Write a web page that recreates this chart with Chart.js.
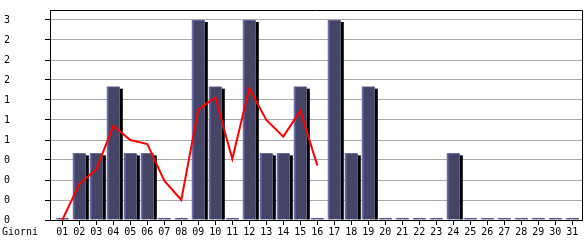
<!DOCTYPE html>
<html>
<head>
<meta charset="utf-8">
<script src="https://cdn.jsdelivr.net/npm/chart.js@4.4.1/dist/chart.umd.min.js"></script>
<style>
html, body { margin: 0; padding: 0; background: #fff; }
#wrap { width: 585px; height: 240px; }
</style>
</head>
<body>
<div id="wrap"><canvas id="giorniChart" width="585" height="240"></canvas></div>
<script>
// dati
var giorni = ["01", "02", "03", "04", "05", "06", "07", "08", "09", "10", "11", "12", "13", "14", "15", "16",
    "17", "18", "19", "20", "21", "22", "23", "24", "25", "26", "27", "28", "29", "30", "31"];
var visite = [0, 1, 1, 2, 1, 1, 0, 0, 3, 2, 0, 3, 1, 1, 2, 0, 3, 1, 2, 0, 0, 0, 0, 1, 0, 0, 0, 0, 0, 0, 0];
var media = [0, 0.54, 0.76, 1.41, 1.2, 1.14, 0.59, 0.3, 1.66, 1.84, 0.915, 1.975, 1.5, 1.25, 1.64, 0.815];
var yTickValues = [0, 0.3, 0.6, 0.9, 1.2, 1.5, 1.8, 2.1, 2.4, 2.7, 3];
var yTickLabels = ["0", "0", "0", "0", "1", "1", "1", "2", "2", "2", "3"];

Chart.defaults.font.family = '"DejaVu Sans Mono", monospace';
Chart.defaults.font.size = 10;
Chart.defaults.color = "#000";

// ombra nera a destra delle barre + cornice + etichetta "Giorni"
var decorPlugin = {
    id: "decor",
    beforeDatasetDraw: function (chart, args) {
        if (args.index !== 0) return;
        var ctx = chart.ctx;
        ctx.save();
        ctx.fillStyle = "#000";
        args.meta.data.forEach(function (bar, i) {
            if (!visite[i]) return;
            var p = bar.getProps(["x", "y", "base", "width"], true);
            ctx.fillRect(p.x + p.width / 2, p.y + 2, 3, p.base - p.y - 2);
        });
        ctx.restore();
    },
    afterDraw: function (chart) {
        var ctx = chart.ctx, a = chart.chartArea;
        ctx.save();
        ctx.strokeStyle = "#000";
        ctx.lineWidth = 1;
        ctx.beginPath();
        ctx.moveTo(a.left, a.top + 0.5);
        ctx.lineTo(a.right + 0.5, a.top + 0.5);
        ctx.lineTo(a.right + 0.5, a.bottom);
        ctx.stroke();
        ctx.fillStyle = "#000";
        ctx.font = '10px "DejaVu Sans Mono", monospace';
        ctx.textBaseline = "middle";
        ctx.textAlign = "left";
        ctx.fillText("Giorni", 2, a.bottom + 12);
        ctx.restore();
    }
};

var ctx = document.getElementById("giorniChart");
new Chart(ctx, {
    type: "bar",
    data: {
        datasets: [{
            type: "bar",
            data: visite.map(function (v, i) { return { x: i + 1, y: v }; }),
            backgroundColor: "#434466",
            borderColor: "#6e6eae",
            borderWidth: { left: 2, top: 1, right: 0, bottom: 0 },
            borderSkipped: false,
            barThickness: 13,
            minBarLength: 2,
            order: 1
        }, {
            type: "line",
            data: media.map(function (v, i) { return { x: i + 1, y: v }; }),
            borderColor: "#ff0000",
            borderWidth: 2,
            pointRadius: 0,
            tension: 0,
            fill: false,
            order: 0
        }]
    },
    options: {
        responsive: false,
        animation: false,
        layout: { padding: { left: 0, right: 3, top: 10, bottom: 0 } },
        plugins: { legend: { display: false }, tooltip: { enabled: false } },
        scales: {
            x: {
                type: "linear",
                offset: false,
                min: 0.276,
                max: 31.57,
                afterBuildTicks: function (scale) {
                    scale.ticks = giorni.map(function (g, i) { return { value: i + 1 }; });
                },
                afterFit: function (scale) { scale.height = 20; },
                ticks: {
                    autoSkip: false,
                    maxRotation: 0,
                    padding: 1,
                    callback: function (value) { return giorni[value - 1]; }
                },
                grid: { offset: false, drawOnChartArea: false, tickLength: 5, tickColor: "#000" },
                border: { color: "#000" }
            },
            y: {
                min: 0,
                max: 3.15,
                afterBuildTicks: function (scale) {
                    scale.ticks = yTickValues.map(function (v) { return { value: v }; });
                },
                afterFit: function (scale) {
                    scale.width = 50;
                    scale.paddingTop = 0;
                    scale.paddingBottom = 0;
                },
                ticks: {
                    padding: 35,
                    callback: function (value, index) { return yTickLabels[index]; }
                },
                grid: { color: "#aaaaaa", tickLength: 5, tickColor: "#000" },
                border: { color: "#000" }
            }
        }
    },
    plugins: [decorPlugin]
});
</script>
</body>
</html>
